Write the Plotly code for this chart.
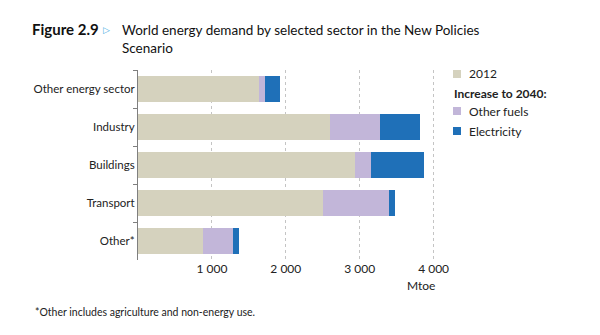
import plotly.graph_objects as go

# Sectors, top to bottom
sectors = ["Other energy sector", "Industry", "Buildings", "Transport", "Other*"]

# Mtoe
demand_2012 = [1640, 2594, 2932, 2502, 885]
increase_other_fuels = [85, 677, 217, 899, 407]
increase_electricity = [191, 542, 723, 73, 73]

x_ticks = [1000, 2000, 3000, 4000]
x_tick_labels = ["1 000", "2 000", "3 000", "4 000"]

series = [
    ("2012", demand_2012, "#D5D2BE"),
    ("Other fuels", increase_other_fuels, "#C2B6D9"),
    ("Electricity", increase_electricity, "#1F70B8"),
]

LABEL_FONT = "Lato"
TITLE_FONT = "Lato"
TEXT_COLOR = "#222222"

fig = go.Figure()
for name, vals, color in series:
    fig.add_trace(go.Bar(
        y=sectors, x=vals, name=name, orientation="h",
        marker=dict(color=color, line=dict(width=0)),
        showlegend=False,
    ))

W, H = 600, 335
L, R, T, B = 138, 159, 70, 75
pw, ph = W - L - R, H - T - B

fig.update_layout(
    width=W, height=H,
    margin=dict(l=L, r=R, t=T, b=B, autoexpand=False),
    barmode="stack", bargap=0.3,
    plot_bgcolor="white", paper_bgcolor="white",
    font=dict(family=LABEL_FONT, size=12, color=TEXT_COLOR),
    xaxis=dict(
        range=[0, 4100], tickvals=x_ticks, ticktext=x_tick_labels,
        showgrid=True, gridcolor="#C4C4C4", griddash="dot", gridwidth=1,
        zeroline=False, showline=False, ticks="",
        tickfont=dict(size=12, family=LABEL_FONT, color=TEXT_COLOR),
    ),
    yaxis=dict(
        autorange="reversed", type="category",
        showline=True, linecolor="#7F7F7F", linewidth=1,
        ticks="outside", tickson="boundaries", ticklen=4, tickcolor="#7F7F7F",
        showgrid=False, zeroline=False,
        tickfont=dict(size=11.5, family=LABEL_FONT, color=TEXT_COLOR),
    ),
)


def ann(text, xp, yp, size, xanchor="left", yanchor="middle", family=LABEL_FONT,
        color=TEXT_COLOR, align="left"):
    """Annotation placed by pixel position on the page."""
    return dict(text=text, x=(xp - L) / pw, y=1 - (yp - T) / ph,
                xref="paper", yref="paper", showarrow=False,
                xanchor=xanchor, yanchor=yanchor, align=align,
                font=dict(family=family, size=size, color=color))


annotations = [
    ann("<b>Figure 2.9</b>", 30, 29, 15, family=TITLE_FONT, color="#111111"),
    ann("\u25B7", 101, 30, 9, family="DejaVu Sans", color="#4BAEE3"),
    ann("World energy demand by selected sector in the New Policies<br>Scenario",
        120, 20, 13.5, yanchor="top", family=TITLE_FONT, color="#111111"),
    ann("Mtoe", 421, 285, 12, xanchor="center"),
    ann("*Other includes agriculture and non-energy use.", 33, 312, 10.5),
    # legend
    ann("2012", 467, 74, 12),
    ann("<b>Increase to 2040:</b>", 452, 94, 12),
    ann("Other fuels", 467, 111, 12),
    ann("Electricity", 467, 131, 12),
]
fig.update_layout(annotations=annotations)

# legend swatches
legend_rows = [(74, series[0][2]), (111, series[1][2]), (131, series[2][2])]
shapes = []
for yc, color in legend_rows:
    x0, x1 = 453, 461
    y0, y1 = yc - 4, yc + 4
    shapes.append(dict(type="rect", xref="paper", yref="paper",
                       x0=(x0 - L) / pw, x1=(x1 - L) / pw,
                       y0=1 - (y1 - T) / ph, y1=1 - (y0 - T) / ph,
                       fillcolor=color, line=dict(width=0)))
fig.update_layout(shapes=shapes)

fig.write_html("out.html")
